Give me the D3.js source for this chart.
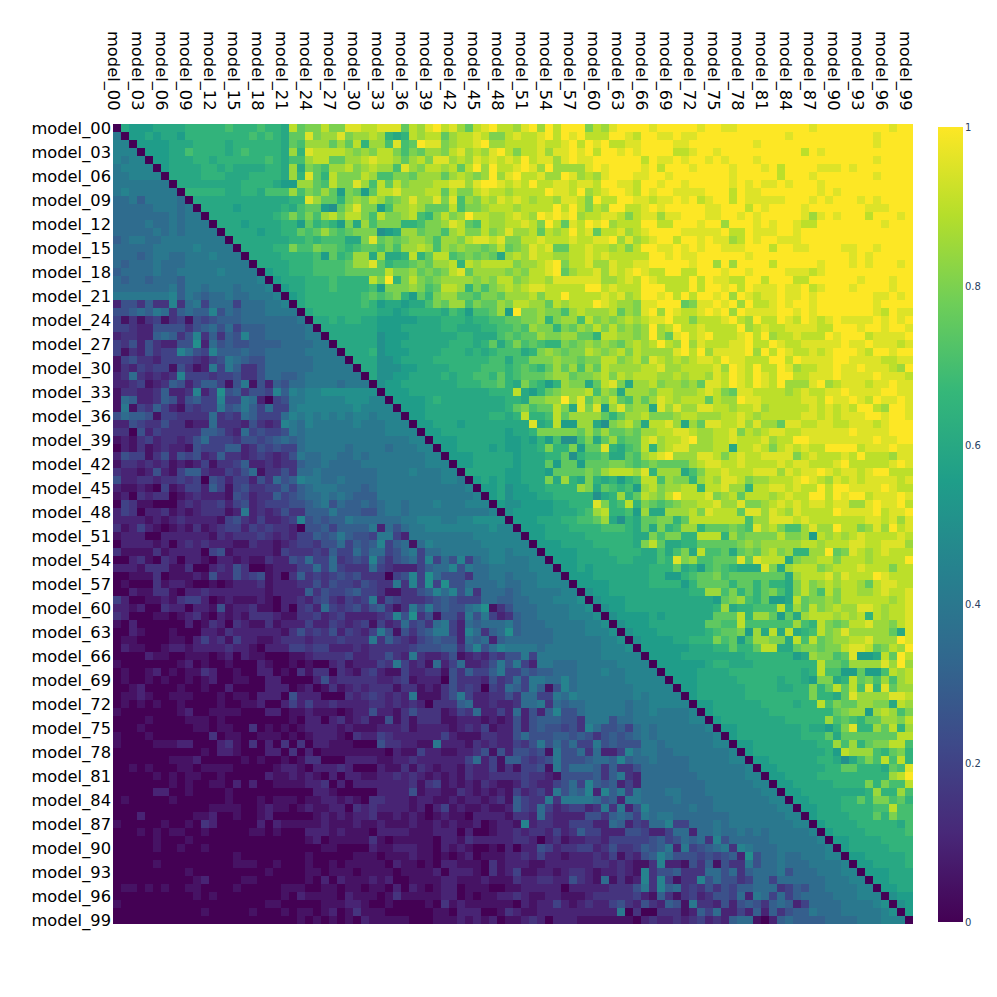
<!DOCTYPE html>
<html><head><meta charset="utf-8">
<style>html,body{margin:0;padding:0;background:#fff}svg{display:block}text{font-family:"DejaVu Sans",sans-serif}</style>
<script src="https://cdn.jsdelivr.net/npm/d3@7"></script></head><body>
<div id="c"></div>
<script>
// Pairwise matrix: cell(i,j) for j>i is stored, cell(j,i) is its complement, diagonal is 0.
// One character per cell: 0=.50 1=.55 2=.60 3=.65 4=.70 5=.75 6=.80 7=.85 8=.90 9=.95 a=1
const upperLeft = [ // rows 0-31, ending at col 32
"21112222333334333433285668669988",
"1121221333333334343255967796778",
"111122233332333333254777575837",
"11122433332343333273988887676",
"1122233233333343244788557789",
"122223323222233272654778678",
"22223332223333273953866687",
"2222222233332117754866974",
"333332233244474657516515",
"22222222222233975536768",
"2222122222324551057966",
"222222223464647868864",
"22212222331534316274",
"2222122335457545666",
"222222233434442269",
"22223364465543455",
"2222333341534772",
"222233344445779",
"12233344445555",
"1222333433338",
"122333433334",
"12333333345",
"2333333343",
"233333333",
"22323322",
"2222222",
"222222",
"22222",
"2223",
"222",
"22",
"2"];
const upperMid = [ // rows 0-64, ending at col 65
"9995879a897589a8879a7a8aaa6879aaa",
"732387885788986689889a8a9a888aa98",
"74945a9967889a7788889889a8a9a8899",
"8646577689787 9a86889799a9a8aa9a9",
"8757869978798 9898a89979a99aaaaaa",
"749768878 58a7a889a97a77779a9aaaa",
"466577757 8767a79a88977a97879aaa9",
"8586777889979aa9898a88998998aa998",
"88977788586689887888 8a998a789aa98",
"756797796947687989878879986a88aa9",
"147787555846678887888 8a8a8687aa88",
"866784368 67a88778987a9a9a78899868",
"666334667985487788986a859 8a9a7888",
"012775664786686797785878a895889 78",
"565677647768998966889888988 99a797",
"464778747676656856798955889887868",
"722383588456565278798877889898888",
"534456577838788886778 9a688977988 9",
"586675656895777767688 9a5788979 89a",
"66a3686567777676886788799999 97789 8",
"716667645887364678789988888aa8 9888",
"456315367755466577786 88a88889897 8",
"122122465774655768877587888a98776",
"122123333243144571a667664787778576",
"11111222333233445566736774867 678 7",
"111222223322233445476636576 8686 76",
"011122222233222454557667755388 776",
"011222222333235246454336567676578",
"011122223332323444236765668767868",
"001222233333334424466676656688 678",
"000112222333344434543575747587777",
"001122223233443534555677566786878",
"011222222233344532643137662589627",
"11122222222223338213567778 47 6277",
"11123222222223 32667 7a7 9 57 68 5 4 7",
"11122222222223564 55 86 29 69 1 79 6 7",
"112222222233 238 33 4 8 5 7 7 7 7 5 3 5 7 7",
"11222122222 2229 23 8 1 1 7 7 2 0 6 7 8 6",
"1122222222 1223 66 6 6 6 5 7 5 7 5 5 6 5",
"111222222 112 13 1 4 0 0 4 6 2 5 7 4 5 5",
"11222212 112 2 3 6 3 3 6 1 5 5 9 3 2 4 5",
"1122222 1 2 2 2 3 3 5 0 3 4 4 5 2 2 5 4",
"122222 1 2 2 2 5 1 5 5 1 5 5 5 6 6 5 4",
"22222 1 1 2 2 2 1 5 5 5 5 6 5 7 8 8 8 7",
"1212 1 1 2 2 2 6 2 7 3 2 6 3 2 3 1 3 4",
"112 0 1 1 2 2 3 3 3 3 7 6 2 5 4 3 4 1",
"12 0 1 1 1 2 2 3 3 3 3 3 0 2 3 7 3 5",
"1 0 0 1 1 1 1 2 2 3 3 3 9 6 3 4 8 3",
"0 1 1 1 1 1 2 2 2 3 4 7 8 3 3 4 1",
"1112223344572032",
"111222333344432",
"11222223333332",
"1112222333332",
"111122223333",
"11122222332",
"1121222222",
"111222222",
"11112222",
"0112222",
"011122",
"01122",
"0111",
"011",
"01",
"0"];
const upperRight = [ // rows 0-98, ending at col 99
"a9aaaaa9aa99aaaaaaaaa9aaaaaaaaa9aa",
"aa99a99aaaaaaaaaaa9aaaaaaaaaa9aaaa",
"aaaa99aaaaaaaa9aaaaaaaaaaaaaa9aaaa",
"aaaa889aa9aaaaaaaaaa8a9aaaaaaaaaaa",
"8a99a9aa9a9aaa9aaaaaaaaaaaaaa9aaaa",
"9a8aaa9aaaa9aaa9a8aaaa999a9aaaaaaa",
"9aa9aaaaaaa9aaaaa8aaa9aaaaaaa9aaaa",
"aa9aa9aaaaa9a9a99a9aaa9aaaaaaaaaaa",
"a9aa9999aaa8a99aaaaaaa9a9aaaaaaaaa",
"9899a9a89aa8a99999aaa9a9aaa9a9aaaa",
"9a9aaaaa99aaa8a9aaaa9aaaaaaa999aaa",
"99799aaa99aa9a9aaaaa979a9aaa8aaa9a",
"aa88aaa9aa7aaa9a9aa988aaaaaaaa9aaa",
"9aaaa99999a88a999aa9aaaaaaaaaaaaaa",
"89aa8aa9a9978a9aa999aaaaaaaaaaaaaa",
"aa99a9a9aa999aaa8aa99aaaa99aa9aaaa",
"8aa9a99aaaaaa9aaaaaaaaaaaa9a9aaaaa",
"9aaaaa9aa7a7aaaa8aaaaa9aaa9a9aaa9a",
"988aa88aaa9aa9aaaa99989aaaaaaaaaaa",
"a98888a8a9988aa8aaa88aaaaaa9aaa9aa",
"aaa888a8aa9a8a999a99a89aaa9aaaa9aa",
"aa9a8a8aa9a7a9899a99a9aaaaaaa99a9a",
"99aaa5699a9a7a889a9aa9aaaaaaa9aaaa",
"9a7a9889a9a7a9999aa9a9aaaaaaa98a99",
"899a8868889a87a88a98a989a9999a9a9a",
"7a78a8898888a78988999988aaa9aa9aa9",
"7a759a89a8889a8a7889888a9aaa89999a",
"78a87a7988899a88a98899999a99a99989",
"7779a8a79999a7a8a98898 9aaa98aa9aa",
"6987878998a99888aa8a9999aa99998899",
"8977888897a98a88a97889 9a99a99987a",
"8778788798a98a98aa889 99a99 99a9998",
"7867767599 8a98a98a77 79a7899 98 9 9a99",
"7688777898659 98888789 88 99a9999aa99",
"579878885 8 77a9988888 99 8a99a98a99a9",
"729797799887 88978 888 8 98 9 8 9 8aa87aa9",
"8666788777889 878888 8 9 9 8 9 8 9 9 9aa9aa9",
"28897 27599889797759988 99 88 999 89aaa",
"6778899877889 687 8 99 8899 999 9a9999aaa",
"589788 9a77889 888 9788aa9 99 999 99a99aa",
"783789977788 2889 868 9 8 9 88aaaa89 99a99",
"87 8 9a7779986 89889 999 689 888 98a8887 99",
"5655557899889 88889 8 9 9 88 89a8888 8 9a9",
"93777246889888 9 997 989 9a9 899 89 aa888",
"8847663787 99867 788 89 a9 87 98 98 99 9989",
"78677883889773 889 989 88 a8 aa9 999 a988",
"876 8a8889 6785 888 7 89 88 aa8 a9aa 8999a9",
"654567788977 966 789 89 8 99 89 9 77 9a99a8",
"67 227778 69888 599 798 7 98 888 a9 99 9a 899a",
"556635888888847799989888888899 8 9 7 9",
"5263477355565497864 4 797 7a886 7 97a 89",
"2646633888375666686 6 71 87 87 89 88 88 98",
"68522335555567 677777 88 78 88 99 88 99 97",
"224246284452565 78 673 3 77 a5 69 87 89 88 8",
"22439674455595 98 8826 77 88 68 88 78 88 8a",
"2233352314543 2229 6 27 88 8 67 88 89 88 86 88",
"233113455645555555 27 88 8 97 98 88 a9 88 8",
"233331355553 55 3533 2 6 8 6 7 8 7 8 8 7 5 8 9 9 8 8",
"2222223377463 5 3 5 6 4 2 6 8 6 4 8 6 8 8 7 7 8 9 8 8 9",
"222222222 15 67 4 3 5 1 1 2 8 5 6 6 7 6 8 8 8 8 8 8 7 8 9",
"222222222 37 2 3 3 4 4 4 8 3 7 5 8 6 7 8 7 7 9 9 8 7 8 8 9",
"12122222 255 58 3 7 7 5 1 5 2 7 8 8 8 7 8 7 8 3 8 7 8 8 9",
"1222222 2 5 5 4 4 8 4 4 4 4 4 4 7 4 3 8 6 5 6 8 8 9 7 7 6 8 9",
"112222223 4 5 5 6 1 7 2 8 2 8 2 3 4 8 6 7 9 7 7 7 7 7 5 2 9",
"11112233 3 6 4 5 1 4 7 7 6 6 2 8 4 8 5 6 7 7 8 8 9 7 7 7 a 9",
"111111222 3 3 5 3 3 5 8 8 2 2 5 6 6 5 6 6 8 9 9 8 5 6 8 7 a",
"1111222222223333331276645911285a8",
"111112332223333333 38554777797a7",
"11112222333333333 23844115114878",
"11122222333332332 1662385647478",
"1122222233332233 6358584939577",
"122222233333333 6332597777998",
"112222223333233 846557766287",
"12222222333333 335677178746",
"12222222233333 74543557768",
"112222222232 213693375837",
"122222222333 52555555588",
"112222222233 7473566884",
"12222222223 1877743563",
"1122222233 2024648483",
"1122222233 553332549",
"112222333 33333378a",
"112222233 33636448",
"11222222 22373374",
"11222233 5366453",
"11222333 344844",
"12222333 53644",
"12222333 3324",
"12222333334",
"1122223333",
"122222333",
"11222223",
"1122223",
"111222",
"11222",
"1122",
"011",
"01",
"1"];
const levels = {"0":.5,"1":.55,"2":.6,"3":.65,"4":.7,"5":.75,"6":.8,"7":.85,"8":.9,"9":.95,"a":1};
const categories = d3.range(100).map(i => "model_" + String(i).padStart(2,"0"));
const tickLabels = categories.filter((d,i) => i % 3 === 0);
const colorbarTicks = [0,0.2,0.4,0.6,0.8,1];
const viridisStops = ["#440154","#482878","#3e4989","#31688e","#26828e","#1f9e89","#35b779","#6ece58","#b5de2b","#fde725"];

const M = categories.map(() => categories.map(() => 0));
const fill = (rows, start, end) => rows.forEach((s,i) => {
  const from = Math.max(start, i+1);
  const chars = [...s.replace(/ /g,"")];
  // each row is anchored on its right end: the speckle runs out from there
  for (let j = end, k = chars.length-1; j >= from; j--, k--) {
    const v = levels[chars[Math.max(k,0)]];
    M[i][j] = v; M[j][i] = +(1 - v).toFixed(2);
  }
});
fill(upperLeft, 1, 32);
fill(upperMid, 33, 65);
fill(upperRight, 66, 99);

const W = 997, H = 997;
const svg = d3.select("#c").append("svg").attr("width",W).attr("height",H);
const x = d3.scaleBand().domain(categories).range([113,913]);
const y = d3.scaleBand().domain(categories).range([124,924]);
const color = d3.scaleLinear().domain(viridisStops.map((d,i)=>i/9)).range(viridisStops).clamp(true);

svg.append("g").attr("shape-rendering","crispEdges").selectAll("g").data(M).join("g")
  .selectAll("rect").data((r,i) => r.map((v,j) => ({i,j,v}))).join("rect")
  .attr("x", d => x(categories[d.j])).attr("y", d => y(categories[d.i]))
  .attr("width", x.bandwidth()).attr("height", y.bandwidth())
  .attr("fill", d => color(d.v));

const fs = 16.3;
const gy = svg.append("g").attr("transform","translate(113,1)")
  .call(d3.axisLeft(y).tickValues(tickLabels).tickSize(0).tickPadding(2));
gy.select(".domain").remove();
gy.selectAll("text").attr("font-size",fs).attr("fill","#000").attr("font-family",'"DejaVu Sans",sans-serif');

const gx = svg.append("g").attr("transform","translate(0,124)")
  .call(d3.axisTop(x).tickValues(tickLabels).tickSize(0));
gx.select(".domain").remove();
gx.selectAll("text").attr("font-size",fs).attr("fill","#000").attr("font-family",'"DejaVu Sans",sans-serif')
  .attr("text-anchor","start").attr("x",0).attr("y",0).attr("dy",9.5)
  .attr("transform","translate(0,-93) rotate(90)");

const grad = svg.append("defs").append("linearGradient").attr("id","vb").attr("x1",0).attr("x2",0).attr("y1",1).attr("y2",0);
grad.selectAll("stop").data(viridisStops).join("stop")
  .attr("offset",(d,i)=>i/9).attr("stop-color",d=>d);
const cb = d3.scaleLinear().domain([0,1]).range([922,127]);
svg.append("rect").attr("x",938).attr("y",cb(1)).attr("width",25).attr("height",cb(0)-cb(1)).attr("fill","url(#vb)");
const gc = svg.append("g").attr("transform","translate(963,0)")
  .call(d3.axisRight(cb).tickValues(colorbarTicks).tickSize(0).tickPadding(2).tickFormat(d3.format("~g")));
gc.select(".domain").remove();
gc.selectAll("text").attr("font-size",10).attr("fill","#2a3f5f").attr("font-family",'"DejaVu Sans",sans-serif');
</script></body></html>
